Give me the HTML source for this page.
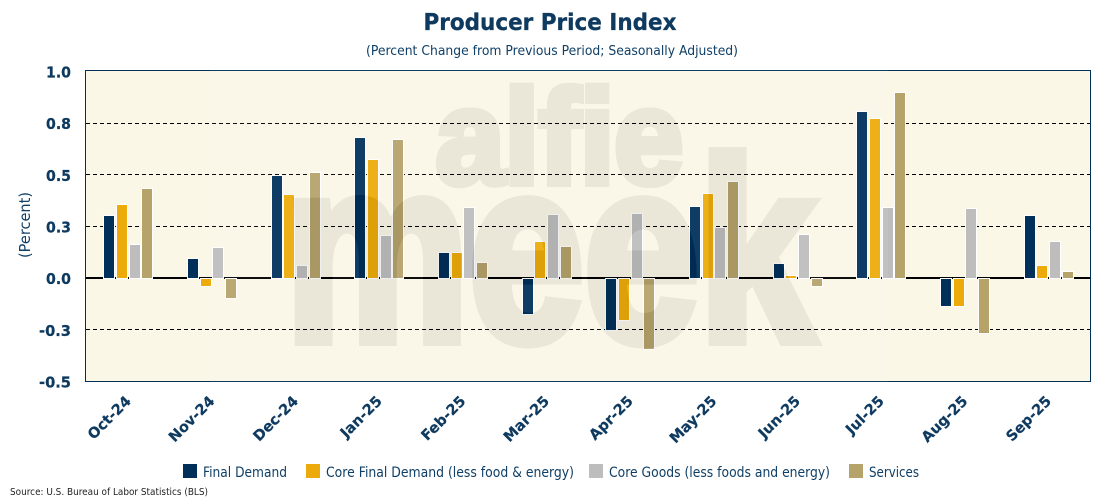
<!DOCTYPE html>
<html lang="en">
<head>
<meta charset="utf-8">
<title>Producer Price Index</title>
<style>
html,body{margin:0;padding:0;background:#fff;width:1100px;height:500px;overflow:hidden}
svg{display:block}
text{font-family:"DejaVu Sans","Liberation Sans",sans-serif}
.wm text{font-family:"Liberation Sans",sans-serif}
</style>
</head>
<body>
<svg id="chart" xmlns="http://www.w3.org/2000/svg" width="1100" height="500" viewBox="0 0 1100 500">
  <defs>
    <mask id="outside-letters" maskUnits="userSpaceOnUse" x="205" y="65" width="690" height="320">
      <rect x="205" y="65" width="690" height="320" fill="#fff"/>
      <g class="wm" fill="#000" stroke="#000" font-weight="bold">
        <text x="436" y="183" font-size="133" stroke-width="8" textLength="247" lengthAdjust="spacingAndGlyphs">alfie</text>
        <text x="285" y="340" font-size="258" stroke-width="12" textLength="529" lengthAdjust="spacingAndGlyphs">meek</text>
      </g>
    </mask>
  </defs>

  <text x="550" y="30" text-anchor="middle" font-size="23" font-weight="bold" fill="#0f3a60" stroke="#0f3a60" stroke-width="0.3" textLength="253" lengthAdjust="spacingAndGlyphs">Producer Price Index</text>
  <text x="552" y="55" text-anchor="middle" font-size="13.5" fill="#0f3f66" textLength="372" lengthAdjust="spacingAndGlyphs">(Percent Change from Previous Period; Seasonally Adjusted)</text>
  <text transform="translate(30 225) rotate(-90)" text-anchor="middle" font-size="15" fill="#0f3f66" textLength="66" lengthAdjust="spacingAndGlyphs">(Percent)</text>

  <rect x="85.5" y="70.5" width="1005" height="311" fill="#faf7e7"/>
  <g id="grid"></g>
  <g id="bars"></g>
  <rect x="85.5" y="70.5" width="1005" height="311" fill="none" stroke="#003057" stroke-width="1"/>

  <g class="wm">
    <rect x="210" y="69" width="678" height="314" fill="#fff" opacity="0.06" mask="url(#outside-letters)"/>
    <g opacity="0.06" fill="#000" stroke="#000" font-weight="bold">
      <text x="436" y="183" font-size="133" stroke-width="8" textLength="247" lengthAdjust="spacingAndGlyphs">alfie</text>
      <text x="285" y="340" font-size="258" stroke-width="12" textLength="529" lengthAdjust="spacingAndGlyphs">meek</text>
    </g>
  </g>

  <g id="y-ticks"></g>
  <g id="x-ticks"></g>

  <g font-size="14" fill="#0f3f66">
    <g>
      <rect x="183" y="464" width="14" height="14" fill="#002f5a"/>
      <text x="203" y="477" textLength="84" lengthAdjust="spacingAndGlyphs">Final Demand</text>
    </g>
    <g>
      <rect x="306" y="464" width="14" height="14" fill="#ecab0a"/>
      <text x="326" y="477" textLength="248" lengthAdjust="spacingAndGlyphs">Core Final Demand (less food &amp; energy)</text>
    </g>
    <g>
      <rect x="589" y="464" width="14" height="14" fill="#bdbdbd"/>
      <text x="609" y="477" textLength="221" lengthAdjust="spacingAndGlyphs">Core Goods (less foods and energy)</text>
    </g>
    <g>
      <rect x="849" y="464" width="14" height="14" fill="#b5a36a"/>
      <text x="869" y="477" textLength="50" lengthAdjust="spacingAndGlyphs">Services</text>
    </g>
  </g>

  <text x="10" y="495" font-size="10" fill="#222" textLength="198" lengthAdjust="spacingAndGlyphs">Source: U.S. Bureau of Labor Statistics (BLS)</text>
</svg>
<script>
const categories = ["Oct-24","Nov-24","Dec-24","Jan-25","Feb-25","Mar-25","Apr-25","May-25","Jun-25","Jul-25","Aug-25","Sep-25"];
const finalDemand = [0.305,0.096,0.498,0.682,0.125,-0.177,-0.254,0.348,0.072,0.807,-0.137,0.305];
const coreFinalDemand = [0.358,-0.042,0.406,0.575,0.125,0.178,-0.204,0.411,0.014,0.774,-0.137,0.063];
const coreGoods = [0.164,0.150,0.063,0.208,0.343,0.310,0.315,0.247,0.213,0.343,0.339,0.178];
const services = [0.435,-0.100,0.512,0.672,0.077,0.154,-0.347,0.469,-0.042,0.899,-0.269,0.034];
const seriesNames = ["final-demand","core-final-demand","core-goods","services"];
const tickValues = [1,0.75,0.5,0.25,0,-0.25,-0.5];
const tickLabels = ["1.0","0.8","0.5","0.3","0.0","-0.3","-0.5"];

const NS = "http://www.w3.org/2000/svg";
const seriesColors = ["#002f5a","#ecab0a","#bdbdbd","#b5a36a"];
const allSeries = [finalDemand, coreFinalDemand, coreGoods, services];
const plotLeft = 86, plotRight = 1090;
const y0 = 277.7, yUnit = 206.8;
const bandWidth = (plotRight - plotLeft) / categories.length;
const barPitch = 12.67;

function yScale(v){ return y0 - yUnit * v; }
function xCenter(i){ return plotLeft + bandWidth * (i + 0.5); }
function make(tag, parent){
  const el = document.createElementNS(NS, tag);
  parent.appendChild(el);
  return el;
}

const gridGroup = document.getElementById("grid");
const yGroup = document.getElementById("y-ticks");
const xGroup = document.getElementById("x-ticks");
const barGroup = document.getElementById("bars");

tickValues.forEach(function(t, i){
  const py = Math.round(yScale(t));
  if (t !== 1 && t !== -0.5) {
    const line = make("line", gridGroup);
    
    
    line.setAttribute("x1", 86);
    line.setAttribute("x2", 1090);
    if (t === 0) {
      line.setAttribute("y1", py);
      line.setAttribute("y2", py);
      line.setAttribute("stroke", "#000");
      line.setAttribute("stroke-width", 2);
    } else {
      line.setAttribute("y1", py + 0.5);
      line.setAttribute("y2", py + 0.5);
      line.setAttribute("stroke", "#000");
      line.setAttribute("stroke-width", 1);
      line.setAttribute("stroke-dasharray", "4 3");
    }
  }
  const label = make("text", yGroup);
  
  
  label.setAttribute("x", 71);
  label.setAttribute("y", yScale(t) + 6.5);
  label.setAttribute("text-anchor", "end");
  label.setAttribute("font-size", "15.5");
  label.setAttribute("font-weight", "bold");
  label.setAttribute("fill", "#0f3a60");
  label.setAttribute("stroke", "#0f3a60");
  label.setAttribute("stroke-width", "0.25");
  label.setAttribute("textLength", tickLabels[i].length === 3 ? 25 : 32);
  label.setAttribute("lengthAdjust", "spacingAndGlyphs");
  label.textContent = tickLabels[i];
});

categories.forEach(function(cat, i){
  const cx = xCenter(i);
  allSeries.forEach(function(series, j){
    const v = series[i];
    const top = Math.round(yScale(Math.max(v, 0)));
    const bottom = Math.round(yScale(Math.min(v, 0)));
    const left = Math.round(cx + (j - 1.5) * barPitch - 5.5);
    const bar = make("rect", barGroup);
    
    
    bar.setAttribute("data-series", seriesNames[j]);
    bar.setAttribute("x", left + 0.5);
    bar.setAttribute("y", top + 0.5);
    bar.setAttribute("width", 11);
    bar.setAttribute("height", Math.max(bottom - top, 1));
    bar.setAttribute("fill", seriesColors[j]);
    bar.setAttribute("stroke", "#fff");
    bar.setAttribute("stroke-width", 1);
  });
  const label = make("text", xGroup);
  
  
  label.setAttribute("transform", "translate(" + (cx + 4) + " 402) rotate(-45)");
  label.setAttribute("text-anchor", "end");
  label.setAttribute("font-size", "14.5");
  label.setAttribute("font-weight", "bold");
  label.setAttribute("fill", "#0f3a60");
  label.setAttribute("stroke", "#0f3a60");
  label.setAttribute("stroke-width", "0.2");
  label.textContent = cat;
});
</script>
</body>
</html>
